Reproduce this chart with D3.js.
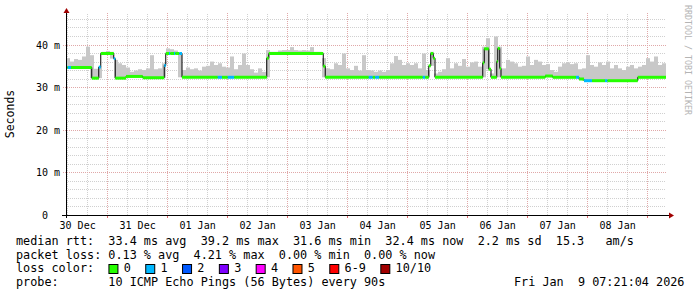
<!DOCTYPE html>
<html lang="en">
  <head>
    <meta charset="UTF-8" />
    <title>SmokePing 10 days</title>
    <script src="https://d3js.org/d3.v7.min.js"></script>
    <style>
      body {
        margin: 0;
        background: #ffffff;
      }
      svg {
        display: block;
      }
      text {
        font-family: "DejaVu Sans Mono", monospace;
        white-space: pre;
      }
    </style>
  </head>
  <body>
    <div id="chart"></div>
    <script>
      // median rtt as steps: hours since graph start, value in ms, loss level
      const stepHour = [0, 0.7, 2.0, 10.3, 13.1, 13.9, 19.1, 19.7, 24.0, 30.7, 39.3, 39.9, 41.2, 41.7, 43.2, 43.7, 45.3,
        46.4, 60.7, 62.4, 64.7, 67.3, 80.3, 81.1, 102.9, 103.7, 121.1, 122.7, 123.7, 125.3, 142.7, 143.7,
        145.1, 145.9, 146.9, 147.6, 166.7, 167.3, 169.1, 170.0, 172.3, 172.7, 173.5, 174.0, 191.7, 194.7,
        204.0, 205.2, 207.2, 210.4, 215.6, 216.6, 228.7];
      const stepMs = [34.7, 34.7, 34.7, 32.2, 34.8, 38.0, 36.8, 32.2, 32.6, 32.3, 35.2, 38.0, 38.0, 38.0, 38.0, 38.0, 38.0,
        32.4, 32.4, 32.4, 32.4, 32.4, 36.9, 38.0, 35.0, 32.4, 32.4, 32.4, 32.4, 32.4, 32.4, 32.4,
        35.1, 38.0, 36.9, 32.4, 35.8, 39.1, 34.3, 32.4, 36.1, 39.2, 34.5, 32.4, 32.7, 32.4,
        32.4, 32.0, 31.6, 31.6, 31.6, 31.6, 32.4];
      const stepLoss = [0, 1, 0, 0, 1, 0, 1, 0, 0, 0, 1, 0, 1, 0, 1, 0, 1,
        0, 1, 0, 1, 0, 0, 0, 0, 0, 1, 0, 1, 0, 1, 0,
        0, 0, 0, 0, 0, 0, 0, 0, 0, 0, 0, 0, 0, 0,
        1, 0, 1, 0, 1, 0, 0];

      // highest ping (top of the smoke) per 96 minute bin
      const smokeTop = [
        36.9, 36.1, 36.7, 36.5, 37.3, 39.6, 37.6, 34.4, 34.9, 38.4,
        38.6, 38.4, 36.5, 35.7, 35.3, 34.7, 33.7, 34.0, 34.3, 34.1,
        34.5, 37.6, 34.3, 34.5, 35.7, 39.2, 39.0, 38.7, 38.2, 34.1,
        34.7, 34.3, 34.5, 34.0, 34.9, 35.1, 36.1, 35.3, 35.7, 34.9,
        34.7, 37.3, 34.3, 35.3, 38.0, 35.3, 34.3, 33.5, 34.5, 33.7,
        38.8, 38.4, 38.4, 38.7, 38.8, 38.8, 39.5, 38.8, 38.7, 38.8,
        38.7, 39.5, 38.4, 38.4, 36.9, 34.5, 34.3, 35.7, 35.3, 38.0,
        34.5, 34.1, 35.1, 34.0, 37.6, 34.1, 34.0, 33.7, 34.0, 33.7,
        34.1, 35.7, 37.4, 36.5, 35.3, 35.7, 35.3, 35.7, 34.5, 38.0,
        34.1, 38.4, 33.3, 33.7, 34.3, 36.9, 34.5, 35.7, 35.1, 36.7,
        34.9, 35.9, 36.1, 34.9, 39.6, 41.6, 33.3, 42.0, 39.6, 34.5,
        36.5, 36.1, 35.7, 34.9, 35.1, 37.3, 35.3, 36.5, 36.1, 35.3,
        35.5, 34.1, 33.7, 34.9, 35.7, 35.9, 35.5, 35.7, 34.3, 34.5,
        37.6, 35.3, 34.9, 35.9, 35.3, 36.1, 34.5, 35.3, 34.5, 34.1,
        34.9, 35.3, 34.5, 34.9, 35.3, 36.9, 36.1, 37.3, 35.3, 35.7
      ];
      const binHours = 1.6;

      const yTicks = [0, 10, 20, 30, 40];
      const yTickLabels = [" 0", "10 m", "20 m", "30 m", "40 m"];

      const lossColors = ["#26ff00", "#00b8ff", "#0059ff", "#7e00ff", "#ff00ff", "#ff5500", "#ff0000", "#a10000"];
      const lossLabels = ["0", "1", "2", "3", "4", "5", "6-9", "10/10"];

      const rttStats = ["33.4 ms avg", "39.2 ms max", "31.6 ms min", "32.4 ms now", "2.2 ms sd", "15.3   am/s"];
      const lossStats = ["0.13 % avg", "4.21 % max", "0.00 % min", "0.00 % now"];
      const probeText = "10 ICMP Echo Pings (56 Bytes) every 90s";
      const stampText = "Fri Jan  9 07:21:04 2026";

      const W = 697, H = 297;
      const endTime = new Date(Date.UTC(2026, 0, 9, 7, 21, 4));
      const startTime = new Date(endTime - 240 * 3600e3);
      const hourTime = (h) => new Date(+startTime + h * 3600e3);

      const x = d3.scaleUtc().domain([startTime, endTime]).range([66, 666]);
      const y = d3.scaleLinear().domain([0, 40]).range([215, 45]);
      const plotTop = 13;
      const px = (v) => Math.floor(v) + 0.5;

      const svg = d3.select("#chart").append("svg").attr("width", W).attr("height", H);
      svg.append("rect").attr("width", W).attr("height", H).attr("fill", "#ffffff");

      // grid
      const grid = svg.append("g");
      const minorX = d3.utcHour.every(8).range(startTime, endTime).filter((d) => d.getUTCHours() !== 0);
      const majorX = d3.utcDay.range(startTime, endTime);
      grid.selectAll(".vmin").data(minorX).join("line")
        .attr("x1", (d) => px(x(d))).attr("x2", (d) => px(x(d)))
        .attr("y1", 215).attr("y2", plotTop)
        .attr("stroke", "#d0d0d0").attr("stroke-dasharray", "1,1");
      const minorY = d3.range(2, 48, 2).filter((v) => v % 10 !== 0);
      grid.selectAll(".hmin").data(minorY).join("line")
        .attr("x1", 66).attr("x2", 666)
        .attr("y1", (d) => px(y(d))).attr("y2", (d) => px(y(d)))
        .attr("stroke", "#d0d0d0").attr("stroke-dasharray", "1,1");
      grid.selectAll(".vmaj").data(majorX).join("line")
        .attr("x1", (d) => px(x(d))).attr("x2", (d) => px(x(d)))
        .attr("y1", 218).attr("y2", plotTop)
        .attr("stroke", "#e0a8a8").attr("stroke-dasharray", "1,1");
      grid.selectAll(".hmaj").data(yTicks.slice(1)).join("line")
        .attr("x1", 63).attr("x2", 666)
        .attr("y1", (d) => px(y(d))).attr("y2", (d) => px(y(d)))
        .attr("stroke", "#e0a8a8").attr("stroke-dasharray", "1,1");

      // smoke
      const medianAt = (h0, h1) => {
        let lo = Infinity;
        stepHour.forEach((s, k) => {
          const e = k + 1 < stepHour.length ? stepHour[k + 1] : 240;
          if (s < h1 && e > h0) lo = Math.min(lo, stepMs[k]);
        });
        return lo;
      };
      svg.append("g").selectAll("rect").data(smokeTop).join("rect")
        .attr("x", (d, i) => x(hourTime(i * binHours)))
        .attr("width", (d, i) => x(hourTime((i + 1) * binHours)) - x(hourTime(i * binHours)))
        .attr("y", (d) => y(d))
        .attr("height", (d, i) => Math.max(0, y(medianAt(i * binHours, (i + 1) * binHours)) - y(d)))
        .attr("fill", "#c8c8c8");

      // median line
      const pts = stepHour.map((h, k) => [hourTime(h), stepMs[k]]);
      pts.push([endTime, stepMs[stepMs.length - 1]]);
      svg.append("path")
        .attr("d", d3.line().x((d) => x(d[0])).y((d) => y(d[1])).curve(d3.curveStepAfter)(pts))
        .attr("fill", "none").attr("stroke", "#000000").attr("stroke-width", 1);
      svg.append("g").selectAll("line").data(stepHour).join("line")
        .attr("x1", (d) => x(hourTime(d)))
        .attr("x2", (d, k) => x(hourTime(k + 1 < stepHour.length ? stepHour[k + 1] : 240)))
        .attr("y1", (d, k) => y(stepMs[k])).attr("y2", (d, k) => y(stepMs[k]))
        .attr("stroke", (d, k) => lossColors[stepLoss[k]]).attr("stroke-width", 3);

      // axes
      svg.append("line").attr("x1", 66.5).attr("x2", 66.5).attr("y1", 218).attr("y2", 12)
        .attr("stroke", "#000000");
      svg.append("line").attr("x1", 62).attr("x2", 670).attr("y1", 215.5).attr("y2", 215.5)
        .attr("stroke", "#000000");
      svg.append("path").attr("d", "M63.5,13 L66.5,8 L69.5,13 Z").attr("fill", "#a00000");
      svg.append("path").attr("d", "M669,212.5 L674,215.5 L669,218.5 Z").attr("fill", "#a00000");
      svg.append("g").selectAll("line").data(majorX).join("line")
        .attr("x1", (d) => px(x(d))).attr("x2", (d) => px(x(d)))
        .attr("y1", 216).attr("y2", 218).attr("stroke", "#e07070");

      // tick labels
      svg.append("g").selectAll("text").data(yTicks).join("text")
        .attr("x", 36).attr("y", (d) => y(d) + 3.5)
        .attr("font-size", 10).attr("fill", "#000")
        .text((d, i) => yTickLabels[i]);
      const labelDays = majorX.map((d) => d3.utcHour.offset(d, -12));
      labelDays.push(d3.utcHour.offset(majorX[majorX.length - 1], 12));
      svg.append("g").selectAll("text").data(labelDays.filter((d) => d > startTime && d < endTime)).join("text")
        .attr("x", (d) => x(d)).attr("y", 228.5)
        .attr("text-anchor", "middle").attr("font-size", 10).attr("fill", "#000")
        .text(d3.utcFormat("%d %b"));

      svg.append("text").attr("transform", "translate(14,114) rotate(-90)")
        .attr("text-anchor", "middle").attr("font-size", 11.5).attr("fill", "#000")
        .text("Seconds");
      svg.append("text").attr("transform", "translate(685,5) rotate(90)")
        .attr("font-size", 8.3).attr("fill", "#b4b4b4")
        .text("RRDTOOL / TOBI OETIKER");

      // legend
      const fs = 11.8, cw = 7.11, lx = 16;
      const leg = svg.append("g").attr("font-size", fs).attr("fill", "#000");
      leg.append("text").attr("x", lx).attr("y", 245).text("median rtt:  " + rttStats.join("  "));
      leg.append("text").attr("x", lx).attr("y", 258.5).text("packet loss: " + lossStats.join("  "));
      leg.append("text").attr("x", lx).attr("y", 272).text("loss color:");
      leg.append("text").attr("x", lx).attr("y", 285.5).text("probe:       " + probeText);
      leg.append("text").attr("x", 514).attr("y", 285.5).text(stampText);

      let ix = lx + 13 * cw;
      lossLabels.forEach((lab, i) => {
        leg.append("rect").attr("x", ix + 0.5).attr("y", 264.5).attr("width", 9).attr("height", 9)
          .attr("fill", lossColors[i]).attr("stroke", "#000");
        leg.append("text").attr("x", ix + 15.3).attr("y", 272).text(lab);
        ix += 15.3 + lab.length * cw + 14.4;
      });
    </script>
  </body>
</html>
